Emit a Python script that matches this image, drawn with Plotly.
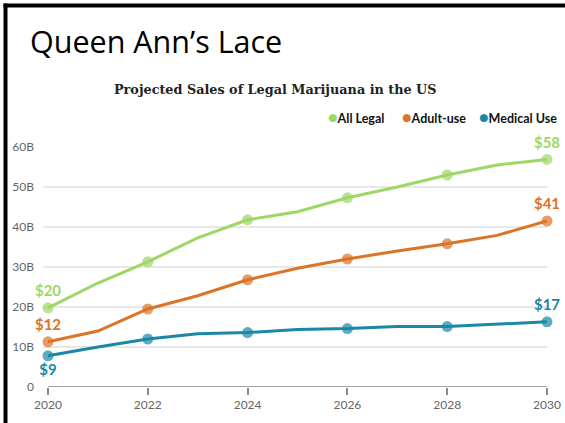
import plotly.graph_objects as go

years = [2020, 2021, 2022, 2023, 2024, 2025, 2026, 2027, 2028, 2029, 2030]
all_legal = [19.8, 26.0, 31.3, 37.3, 41.8, 43.8, 47.3, 50.0, 53.0, 55.5, 56.9]
adult_use = [11.3, 14.0, 19.5, 22.8, 26.8, 29.7, 32.0, 34.0, 35.8, 37.9, 41.5]
medical_use = [7.8, 10.0, 12.0, 13.3, 13.6, 14.4, 14.6, 15.1, 15.1, 15.7, 16.3]

series_names = ["All Legal", "Adult-use", "Medical Use"]
colors = ["#9DD765", "#DB7426", "#1A87A6"]
first_labels = ["$20", "$12", "$9"]
last_labels = ["$58", "$41", "$17"]
first_pos = ["top center", "top center", "bottom center"]

y_ticks = [0, 10, 20, 30, 40, 50, 60]
y_ticktext = ["0", "10B", "20B", "30B", "40B", "50B", "60B"]
x_ticks = [2020, 2022, 2024, 2026, 2028, 2030]

L, R, T, B = 43, 18, 147, 36
W, H = 565, 423
pw, ph = W - L - R, H - T - B

def px_to_paper_x(px):
    return (px - L) / pw

def px_to_paper_y(py):
    return 1 - (py - T) / ph

fig = go.Figure()
for name, vals, col, fl, ll, fp in zip(series_names, [all_legal, adult_use, medical_use],
                                       colors, first_labels, last_labels, first_pos):
    sizes = [11 if y % 2 == 0 else 0 for y in years]
    texts = [""] * len(years)
    texts[0] = fl
    texts[-1] = ll
    tpos = ["top center"] * len(years)
    tpos[0] = fp
    fig.add_trace(go.Scatter(
        x=years, y=vals, mode="lines+markers+text", name=name,
        line=dict(color=col, width=3),
        marker=dict(color=col, size=sizes, line=dict(width=0)),
        text=texts, textposition=tpos,
        textfont=dict(family="Lato", size=15, color=col, weight="bold"),
        cliponaxis=False, showlegend=False,
    ))

# bottom axis line from first to last year
fig.add_shape(type="line", xref="x", yref="y", x0=years[0], x1=years[-1], y0=0, y1=0,
              line=dict(color="#8a8a8a", width=1.5))

# border (top and left)
fig.add_shape(type="rect", xref="paper", yref="paper",
              x0=px_to_paper_x(3.5), x1=px_to_paper_x(7.5),
              y0=px_to_paper_y(3.5), y1=px_to_paper_y(H),
              line=dict(width=0), fillcolor="black")
fig.add_shape(type="rect", xref="paper", yref="paper",
              x0=px_to_paper_x(3.5), x1=px_to_paper_x(W),
              y0=px_to_paper_y(3.5), y1=px_to_paper_y(7.5),
              line=dict(width=0), fillcolor="black")

annotations = [
    dict(text="Queen Ann’s Lace", xref="paper", yref="paper",
         x=px_to_paper_x(28), y=px_to_paper_y(41), xanchor="left", yanchor="middle",
         showarrow=False, font=dict(family="Open Sans", size=30.5, color="black")),
    dict(text="Projected Sales of Legal Marijuana in the US", xref="paper", yref="paper",
         x=px_to_paper_x(275), y=px_to_paper_y(89), xanchor="center", yanchor="middle",
         showarrow=False, font=dict(family="DejaVu Serif", size=12.8, color="#222222", weight="bold")),
]
legend_x = [326, 400, 477]
for name, col, lx in zip(series_names, colors, legend_x):
    annotations.append(dict(
        text=f"<span style='color:{col};font-size:16px'>●</span>{name}", xref="paper", yref="paper",
        x=px_to_paper_x(lx), y=px_to_paper_y(116), xanchor="left", yanchor="middle",
        showarrow=False, font=dict(family="Lato", size=12.5, color="#111111", weight="bold")))

fig.update_layout(
    width=W, height=H, margin=dict(l=L, r=R, t=T, b=B, autoexpand=False),
    paper_bgcolor="white", plot_bgcolor="white",
    annotations=annotations,
    xaxis=dict(range=[2019.9, 2030], tickvals=x_ticks, showgrid=False, showline=False,
               zeroline=False, ticks="outside", ticklen=7, tickwidth=1.5, tickcolor="#8a8a8a",
               tickfont=dict(family="Lato", size=12, color="#666666")),
    yaxis=dict(range=[0, 60], tickvals=y_ticks, ticktext=y_ticktext, showgrid=True,
               gridcolor="#e8e8e8", gridwidth=1.5, zeroline=False, showline=False,
               ticks="", ticklabelstandoff=8,
               tickfont=dict(family="Lato", size=12, color="#666666")),
)

fig.write_html(
    "out.html",
    config={"displayModeBar": False},
    post_script="document.documentElement.style.overflow='hidden';"
                "document.body.style.overflow='hidden';document.body.style.margin='0';",
)
